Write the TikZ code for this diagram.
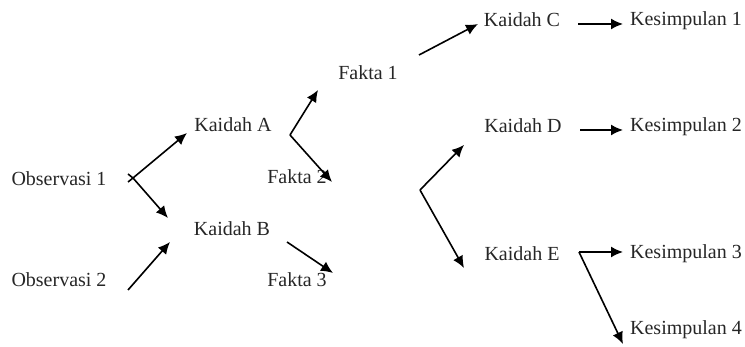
\documentclass[tikz,border=0pt]{standalone}
\usepackage{fontspec}
\setmainfont{Liberation Serif}
\usetikzlibrary{arrows.meta}
\begin{document}
\begin{tikzpicture}[x=0.5pt,y=-0.5pt,
  lbl/.style={inner sep=0pt, font=\fontsize{10}{12}\selectfont, text=black!85},
  arr/.style={draw=black, line width=0.8pt, -{Latex[length=6pt,width=5.5pt]}},
  ln/.style={draw=black, line width=0.8pt}]
\useasboundingbox (0,0) rectangle (745,347);
% labels
\node[lbl] (obs1) at (59,179) {Observasi 1};
\node[lbl] (obs2) at (59,280) {Observasi 2};
\node[lbl] (ka) at (233,125) {Kaidah A};
\node[lbl] (kb) at (232,229) {Kaidah B};
\node[lbl] (f1) at (368,73) {Fakta 1};
\node[lbl] (f2) at (297,177) {Fakta 2};
\node[lbl] (f3) at (297,280) {Fakta 3};
\node[lbl] (kc) at (522,20) {Kaidah C};
\node[lbl] (kd) at (523,126) {Kaidah D};
\node[lbl] (ke) at (522,254) {Kaidah E};
\node[lbl] (k1) at (686,21) {Kesimpulan 1};
\node[lbl] (k2) at (686,127) {Kesimpulan 2};
\node[lbl] (k3) at (686,254) {Kesimpulan 3};
\node[lbl] (k4) at (686,330) {Kesimpulan 4};
% coordinates
\coordinate (s1) at (133,178);
\coordinate (s1a) at (128,174);
\coordinate (s1b) at (128,182);
\coordinate (tA) at (187,133);
\coordinate (tB) at (168,218);
\coordinate (o2s) at (128,290);
\coordinate (o2t) at (170,242);
\coordinate (s2) at (290,135);
\coordinate (tF1) at (318,90);
\coordinate (tF2) at (332,182);
\coordinate (bs) at (287,242);
\coordinate (tF3) at (333,273);
\coordinate (f1s) at (419,55);
\coordinate (tC) at (478,24);
\coordinate (s3) at (420,190);
\coordinate (tD) at (464,145);
\coordinate (tE) at (464,268);
\coordinate (cs) at (578,24);
\coordinate (t1) at (623,24);
\coordinate (ds) at (580,130);
\coordinate (t2) at (623,130);
\coordinate (es) at (579,252);
\coordinate (t3) at (623,252);
\coordinate (t4) at (623,344);
% connectors
\draw[ln] (s1a) -- (s1);
\draw[ln] (s1b) -- (s1);
\draw[arr] (s1) -- (tA);
\draw[arr] (s1) -- (tB);
\draw[arr] (o2s) -- (o2t);
\draw[arr] (s2) -- (tF1);
\draw[arr] (s2) -- (tF2);
\draw[arr] (bs) -- (tF3);
\draw[arr] (f1s) -- (tC);
\draw[arr] (s3) -- (tD);
\draw[arr] (s3) -- (tE);
\draw[arr] (cs) -- (t1);
\draw[arr] (ds) -- (t2);
\draw[arr] (es) -- (t3);
\draw[arr] (es) -- (t4);
\end{tikzpicture}
\end{document}
